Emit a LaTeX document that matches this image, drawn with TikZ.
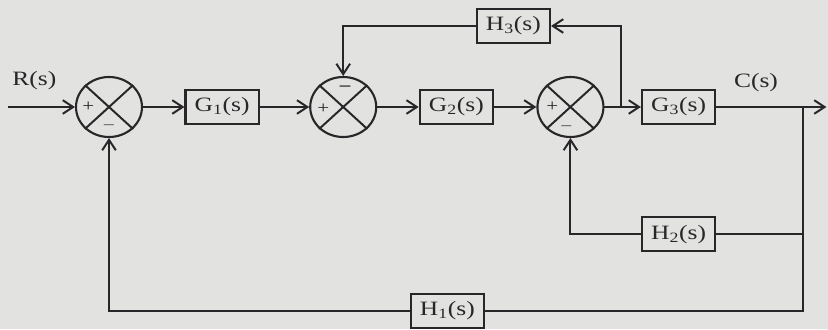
\documentclass[tikz,border=0pt]{standalone}
\usepackage{fontspec}
\setmainfont{Liberation Serif}[FakeStretch=1.25]
\usetikzlibrary{shapes.geometric,arrows.meta,positioning,calc}
\definecolor{paper}{RGB}{226,226,224}
\definecolor{ink}{RGB}{40,38,40}

\begin{document}
\begin{tikzpicture}[
  block/.style={rectangle, draw=ink, line width=1.5pt, fill=paper, minimum width=1.83cm, minimum height=0.85cm, inner sep=0pt, font=\fontsize{14.5}{16}\selectfont, text=ink},
  junc/.style={ellipse, draw=ink, line width=1.5pt, minimum width=1.65cm, minimum height=1.5cm, inner sep=0pt},
  arr/.style={-{Straight Barb[length=2.6mm, width=3.4mm]}, line width=1.4pt, draw=ink},
  wire/.style={line width=1.4pt, draw=ink},
  lab/.style={font=\fontsize{14.5}{16}\selectfont, text=ink},
  sgn/.style={font=\fontsize{12}{14}\selectfont, text=ink, inner sep=0pt}
]
\fill[paper] (0,0) rectangle (20.7,-8.225);
\useasboundingbox (0,0) rectangle (20.7,-8.225);
\node[junc] (s1) at (2.725,-2.675) {};
\node[block, right=1.035cm of s1] (g1) {G\textsubscript{1}(s)};
\node[junc, right=1.235cm of g1] (s2) {};
\node[block, right=1.035cm of s2] (g2) {G\textsubscript{2}(s)};
\node[junc, right=1.06cm of g2] (s3) {};
\node[block, right=0.91cm of s3] (g3) {G\textsubscript{3}(s)};
\node[block, below=2.28cm of g3] (h2) {H\textsubscript{2}(s)};
\node[block] (h3) at ($(g2)!0.5!(s3)+(0,2.025)$) {H\textsubscript{3}(s)};
\node[block] (h1) at ($(g2)+(-0.225,-5.1)$) {H\textsubscript{1}(s)};
\node[lab] (rin) at (0.86,-2.025) {R(s)};
\node[lab] (cout) at (18.9,-2.075) {C(s)};
\coordinate (in) at (0.2,-2.675);
\coordinate (out) at (20.66,-2.675);
\coordinate (br) at (20.075,-2.675);
\coordinate (b3) at ($(s3.east)!0.45!(g3.west)$);
% crosses and signs of the summing points
\draw[wire] (s1.north west) -- (s1.south east) (s1.north east) -- (s1.south west);
\draw[wire] (s2.north west) -- (s2.south east) (s2.north east) -- (s2.south west);
\draw[wire] (s3.north west) -- (s3.south east) (s3.north east) -- (s3.south west);
\node[sgn] (p1) at ($(s1)+(-0.52,0)$) {+}; \node[sgn] (m1) at ($(s1)+(0,-0.45)$) {$-$};
\node[sgn] (p2) at ($(s2)+(-0.5,-0.05)$) {+}; \node[sgn] (m2) at ($(s2)+(0.05,0.46)$) {\textbf{--}};
\node[sgn] (p3) at ($(s3)+(-0.45,0)$) {+}; \node[sgn] (m3) at ($(s3)+(-0.1,-0.48)$) {$-$};
% forward path
\draw[arr] (in) -- (s1); \draw[arr] (s1) -- (g1); \draw[arr] (g1) -- (s2);
\draw[arr] (s2) -- (g2); \draw[arr] (g2) -- (s3); \draw[arr] (s3) -- (g3);
\draw[arr] (g3) -- (out);
% feedback paths
\draw[arr] (b3) |- (h3); \draw[arr] (h3) -| (s2);
\draw[wire] (br) |- (h1); \draw[wire] (br) |- (h2);
\draw[arr] (h2) -| (s3); \draw[arr] (h1) -| (s1);
\end{tikzpicture}
\end{document}
